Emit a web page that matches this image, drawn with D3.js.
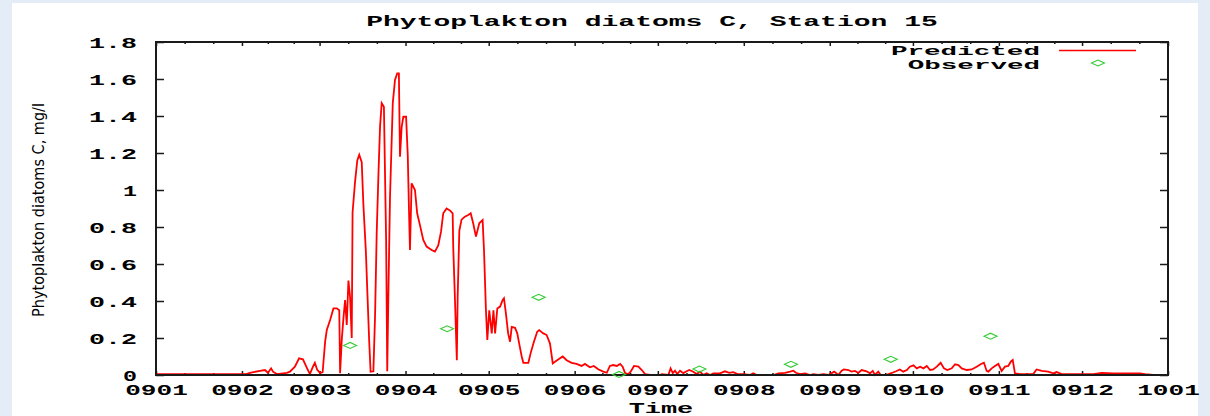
<!DOCTYPE html>
<html>
<head>
<meta charset="utf-8">
<script src="https://cdn.jsdelivr.net/npm/d3@7"></script>
<style>
  html, body { margin: 0; padding: 0; background: #e4ecf8; }
  svg { display: block; }
</style>
</head>
<body>
<svg id="chart" width="1210" height="416"></svg>
<script>
// ---------- data ----------
const titleText = "Phytoplakton diatoms C, Station 15";
const yLabelText = "Phytoplakton diatoms C, mg/l";
const xLabelText = "Time";
const seriesNames = ["Predicted", "Observed"];

// month tick dates and labels
const monthTicks = ["2009-01-01","2009-02-01","2009-03-01","2009-04-01","2009-05-01","2009-06-01",
  "2009-07-01","2009-08-01","2009-09-01","2009-10-01","2009-11-01","2009-12-01","2010-01-01"];
const monthLabels = ["0901","0902","0903","0904","0905","0906","0907","0908","0909","0910","0911","0912","1001"];
const yTicks = [0, 0.2, 0.4, 0.6, 0.8, 1, 1.2, 1.4, 1.6, 1.8];
const yTickLabels = ["0", "0.2", "0.4", "0.6", "0.8", "1", "1.2", "1.4", "1.6", "1.8"];

// predicted series: day offset from 2009-01-01 and value (mg/l)
const predDays = [0,15.9,32.5,33.9,37.5,39.3,40.4,41.5,42.2,43.6,47.2,48.3,50.1,51.6,53.0,54.5,55.5,56.6,57.3,58.1,59.2,60.1,
  61.0,61.6,62.8,64.0,65.2,66.1,66.4,67.0,67.6,68.2,68.8,69.4,70.0,70.6,70.9,71.8,72.6,73.3,74.2,74.8,75.7,76.2,76.9,77.4,
  78.4,79.0,79.6,80.2,80.8,81.4,82.2,83.0,83.4,83.8,84.4,85.4,86.2,87.0,87.6,88.0,88.6,89.2,90.2,90.8,91.3,91.6,92.2,92.8,
  93.4,94.2,95.2,96.4,97.6,99.4,100.6,101.8,102.8,103.6,104.8,106.0,107.0,107.2,107.8,108.5,108.8,109.4,110.2,111.4,112.6,
  113.5,114.4,115.4,116.6,117.8,118.3,119.0,119.5,120.2,121.1,121.7,122.3,123.1,124.1,125.0,125.5,126.2,127.0,127.7,128.3,
  129.5,130.3,131.0,131.9,132.5,134.3,135.1,136.3,137.5,138.2,139.7,140.9,142.1,143.1,143.9,145.7,146.7,148.1,149.9,151.7,
  153.5,154.7,156.5,157.9,159.5,161.3,162.6,163.7,164.9,166.2,167.4,168.3,169.2,170.3,171.2,172.4,174.0,175.2,176.4,178.2,
  181.8,182.4,184.8,185.6,186.4,187.2,188.0,189.0,190.2,191.4,192.3,193.8,195.0,196.2,197.4,198.6,199.8,201.0,203.4,205.2,
  206.8,208.2,210.0,211.8,214.2,215.4,216.7,220.3,222.7,224.5,226.9,228.7,229.9,230.8,232.3,234.1,235.9,237.1,238.9,240.7,
  242.5,244.6,246.1,247.3,248.1,249.7,250.9,252.1,253.3,254.5,256.3,257.5,258.5,259.3,260.5,261.4,263.0,264.2,265.4,266.9,
  268.3,269.5,270.8,271.9,273.2,274.4,275.6,276.8,278.0,279.2,280.3,281.6,283.0,284.2,285.4,287.0,288.2,289.4,290.6,292.4,
  294.2,296.0,297.4,298.6,299.6,300.2,301.4,302.6,303.8,305.0,306.2,307.4,308.3,309.0,309.8,311.6,316.4,317.6,319.5,321.8,
  323.6,324.8,326.7,338.1,341.1,345.3,354.9,356.7,359.7,365];
const predValues = [0.005,0.005,0.005,0.012,0.022,0.027,0.012,0.036,0.018,0.005,0.012,0.018,0.045,0.09,0.085,0.036,0.005,0.045,0.066,0.03,0.01,0.015,
  0.18,0.243,0.297,0.36,0.36,0.35,0.01,0.19,0.306,0.405,0.27,0.51,0.42,0.2,0.88,1.045,1.16,1.19,1.15,0.92,0.667,0.46,0.18,0.018,
  0.02,0.315,0.766,1.07,1.34,1.47,1.45,0.73,0.02,0.42,0.96,1.47,1.595,1.63,1.63,1.18,1.34,1.396,1.396,1.19,0.856,0.676,1.036,1.018,
  1.0,0.874,0.81,0.73,0.694,0.676,0.667,0.70,0.775,0.874,0.9,0.89,0.874,0.694,0.42,0.08,0.42,0.78,0.84,0.856,0.865,
  0.874,0.82,0.748,0.82,0.838,0.676,0.35,0.19,0.35,0.225,0.35,0.225,0.36,0.37,0.405,0.415,0.333,0.225,0.18,0.26,
  0.255,0.225,0.17,0.1,0.066,0.066,0.117,0.18,0.234,0.243,0.225,0.216,0.17,0.063,0.072,0.09,0.1,0.08,0.066,0.06,
  0.049,0.06,0.042,0.049,0.031,0.018,0.012,0.049,0.054,0.049,0.06,0.045,0.01,0.005,0.018,0.049,0.045,0.027,0.005,0.0,
  0.0,0.005,0.0,0.036,0.01,0.023,0.005,0.023,0.01,0.02,0.027,0.018,0.005,0.018,0.0,0.009,0.0,0.009,0.009,0.02,
  0.012,0.015,0.004,0.005,0.0,0.009,0.0,0.0,0.0,0.009,0.012,0.018,0.023,0.012,0.005,0.009,0.0,0.005,0.0,0.005,
  0.0,0.018,0.0,0.023,0.03,0.027,0.018,0.022,0.011,0.027,0.02,0.009,0.022,0.0,0.018,0.0,0.0,0.005,0.011,0.02,
  0.03,0.018,0.027,0.045,0.052,0.036,0.045,0.036,0.049,0.027,0.03,0.045,0.066,0.036,0.027,0.036,0.058,0.054,0.036,0.027,
  0.03,0.045,0.058,0.066,0.022,0.018,0.036,0.049,0.06,0.022,0.045,0.049,0.072,0.081,0.009,0.005,0.005,0.03,0.022,0.018,
  0.009,0.016,0.005,0.005,0.011,0.009,0.009,0.005,0.0,0.0];

// observed samples
const obsDates = ["2009-03-12","2009-04-16","2009-05-19","2009-06-17","2009-07-16","2009-08-18","2009-09-23","2009-10-29"];
const obsValues = [0.16, 0.25, 0.42, 0.003, 0.032, 0.058, 0.085, 0.21];

// ---------- layout ----------
const W = 1210, H = 416;
const plot = { left: 156, right: 1168, top: 42, bottom: 375 };
const red = "#ff0000", green = "#33cc33", ink = "#1a1a1a";
const fontMono = "'Liberation Mono', 'DejaVu Sans Mono', monospace";

const svg = d3.select("#chart");
svg.append("rect").attr("x", 12).attr("y", 3).attr("width", 1186).attr("height", H - 3).attr("fill", "#ffffff");

const parse = d3.utcParse("%Y-%m-%d");
const t0 = parse("2009-01-01");
const x = d3.scaleUtc().domain([parse(monthTicks[0]), parse(monthTicks[monthTicks.length - 1])]).range([plot.left, plot.right]);
const y = d3.scaleLinear().domain([0, 1.8]).range([plot.bottom, plot.top]);

const monthDates = monthTicks.map(parse);
const labelOf = new Map(monthDates.map((d, i) => [+d, monthLabels[i]]));
const minorDates = [];
for (let i = 0; i < monthDates.length - 1; i++) {
  const a = +monthDates[i], b = +monthDates[i + 1];
  minorDates.push(new Date(a + (b - a) / 3), new Date(a + 2 * (b - a) / 3));
}

function stretch(sel, perChar) {
  sel.each(function () {
    const s = d3.select(this);
    const n = s.text().length;
    s.attr("textLength", n * perChar - 3).attr("lengthAdjust", "spacingAndGlyphs");
  });
}

// bottom axis (major with labels)
const gx = svg.append("g").attr("transform", `translate(0,${plot.bottom})`)
  .call(d3.axisBottom(x).tickValues(monthDates).tickSizeInner(-4).tickSizeOuter(0)
    .tickFormat(d => labelOf.get(+d)));
gx.select(".domain").remove();
gx.selectAll("line").attr("stroke", ink).attr("stroke-width", 1.5);
gx.selectAll("text").attr("dy", null).attr("y", 20)
  .attr("font-family", fontMono).attr("font-weight", "bold").attr("font-size", 14).attr("fill", "#000");
stretch(gx.selectAll("text"), 16.4);

// bottom minor ticks
const gxm = svg.append("g").attr("transform", `translate(0,${plot.bottom})`)
  .call(d3.axisBottom(x).tickValues(minorDates).tickSizeInner(-2).tickSizeOuter(0).tickFormat(""));
gxm.select(".domain").remove();
gxm.selectAll("line").attr("stroke", ink).attr("stroke-width", 1.5);

// top mirror ticks
const gxt = svg.append("g").attr("transform", `translate(0,${plot.top})`)
  .call(d3.axisTop(x).tickValues(monthDates).tickSizeInner(-4).tickSizeOuter(0).tickFormat(""));
gxt.select(".domain").remove();
gxt.selectAll("line").attr("stroke", ink).attr("stroke-width", 1.5);
const gxtm = svg.append("g").attr("transform", `translate(0,${plot.top})`)
  .call(d3.axisTop(x).tickValues(minorDates).tickSizeInner(-2).tickSizeOuter(0).tickFormat(""));
gxtm.select(".domain").remove();
gxtm.selectAll("line").attr("stroke", ink).attr("stroke-width", 1.5);

// left axis
const gy = svg.append("g").attr("transform", `translate(${plot.left},0)`)
  .call(d3.axisLeft(y).tickValues(yTicks).tickSizeInner(-8).tickSizeOuter(0).tickPadding(19)
    .tickFormat((d, i) => yTickLabels[i]));
gy.select(".domain").remove();
gy.selectAll("line").attr("stroke", ink).attr("stroke-width", 1.5);
gy.selectAll("text").attr("dy", "0.36em")
  .attr("font-family", fontMono).attr("font-weight", "bold").attr("font-size", 14).attr("fill", "#000");
stretch(gy.selectAll("text"), 17);

// right mirror ticks
const gyr = svg.append("g").attr("transform", `translate(${plot.right},0)`)
  .call(d3.axisRight(y).tickValues(yTicks).tickSizeInner(-8).tickSizeOuter(0).tickFormat(""));
gyr.select(".domain").remove();
gyr.selectAll("line").attr("stroke", ink).attr("stroke-width", 1.5);

// predicted line
const predData = predDays.map((d, i) => ({ date: new Date(+t0 + d * 86400000), value: predValues[i] }));
const line = d3.line().x(d => x(d.date)).y(d => y(d.value));
svg.append("path").datum(predData)
  .attr("d", line).attr("fill", "none").attr("stroke", red).attr("stroke-width", 1.8)
  .attr("stroke-linejoin", "miter");

// frame
svg.append("rect").attr("x", plot.left).attr("y", plot.top)
  .attr("width", plot.right - plot.left).attr("height", plot.bottom - plot.top)
  .attr("fill", "none").attr("stroke", ink).attr("stroke-width", 2);

// observed diamonds
const diamond = (cx, cy) => `M${cx - 6.5},${cy}L${cx},${cy - 3}L${cx + 6.5},${cy}L${cx},${cy + 3}Z`;
const obsData = obsDates.map((d, i) => ({ date: parse(d), value: obsValues[i] }));
svg.append("g").selectAll("path").data(obsData).join("path")
  .attr("d", d => diamond(x(d.date), y(d.value)))
  .attr("fill", "none").attr("stroke", green).attr("stroke-width", 1.1);

// title
svg.append("text").attr("x", 652).attr("y", 26).attr("text-anchor", "middle")
  .attr("font-family", fontMono).attr("font-weight", "bold").attr("font-size", 14.5).attr("fill", "#000")
  .text(titleText).call(s => stretch(s, 16.9));

// x label
svg.append("text").attr("x", 661).attr("y", 413).attr("text-anchor", "middle")
  .attr("font-family", fontMono).attr("font-weight", "bold").attr("font-size", 14).attr("fill", "#000")
  .text(xLabelText).call(s => stretch(s, 16.9));

// y label
svg.append("text").attr("transform", "translate(44,210) rotate(-90)").attr("text-anchor", "middle")
  .attr("font-family", "'DejaVu Sans', sans-serif").attr("font-size", 15).attr("fill", "#000")
  .attr("textLength", 214).attr("lengthAdjust", "spacingAndGlyphs")
  .text(yLabelText);

// legend
const lg = svg.append("g");
lg.append("text").attr("x", 1040).attr("y", 54.5).attr("text-anchor", "end")
  .attr("font-family", fontMono).attr("font-weight", "bold").attr("font-size", 12.5).attr("fill", "#000")
  .text(seriesNames[0]).call(s => stretch(s, 16.9));
lg.append("text").attr("x", 1040).attr("y", 68.5).attr("text-anchor", "end")
  .attr("font-family", fontMono).attr("font-weight", "bold").attr("font-size", 12.5).attr("fill", "#000")
  .text(seriesNames[1]).call(s => stretch(s, 16.9));
lg.append("line").attr("x1", 1059).attr("x2", 1136).attr("y1", 50.5).attr("y2", 50.5)
  .attr("stroke", red).attr("stroke-width", 1.5);
lg.append("path").attr("d", diamond(1098, 63)).attr("fill", "none").attr("stroke", green).attr("stroke-width", 1.1);
</script>
</body>
</html>
